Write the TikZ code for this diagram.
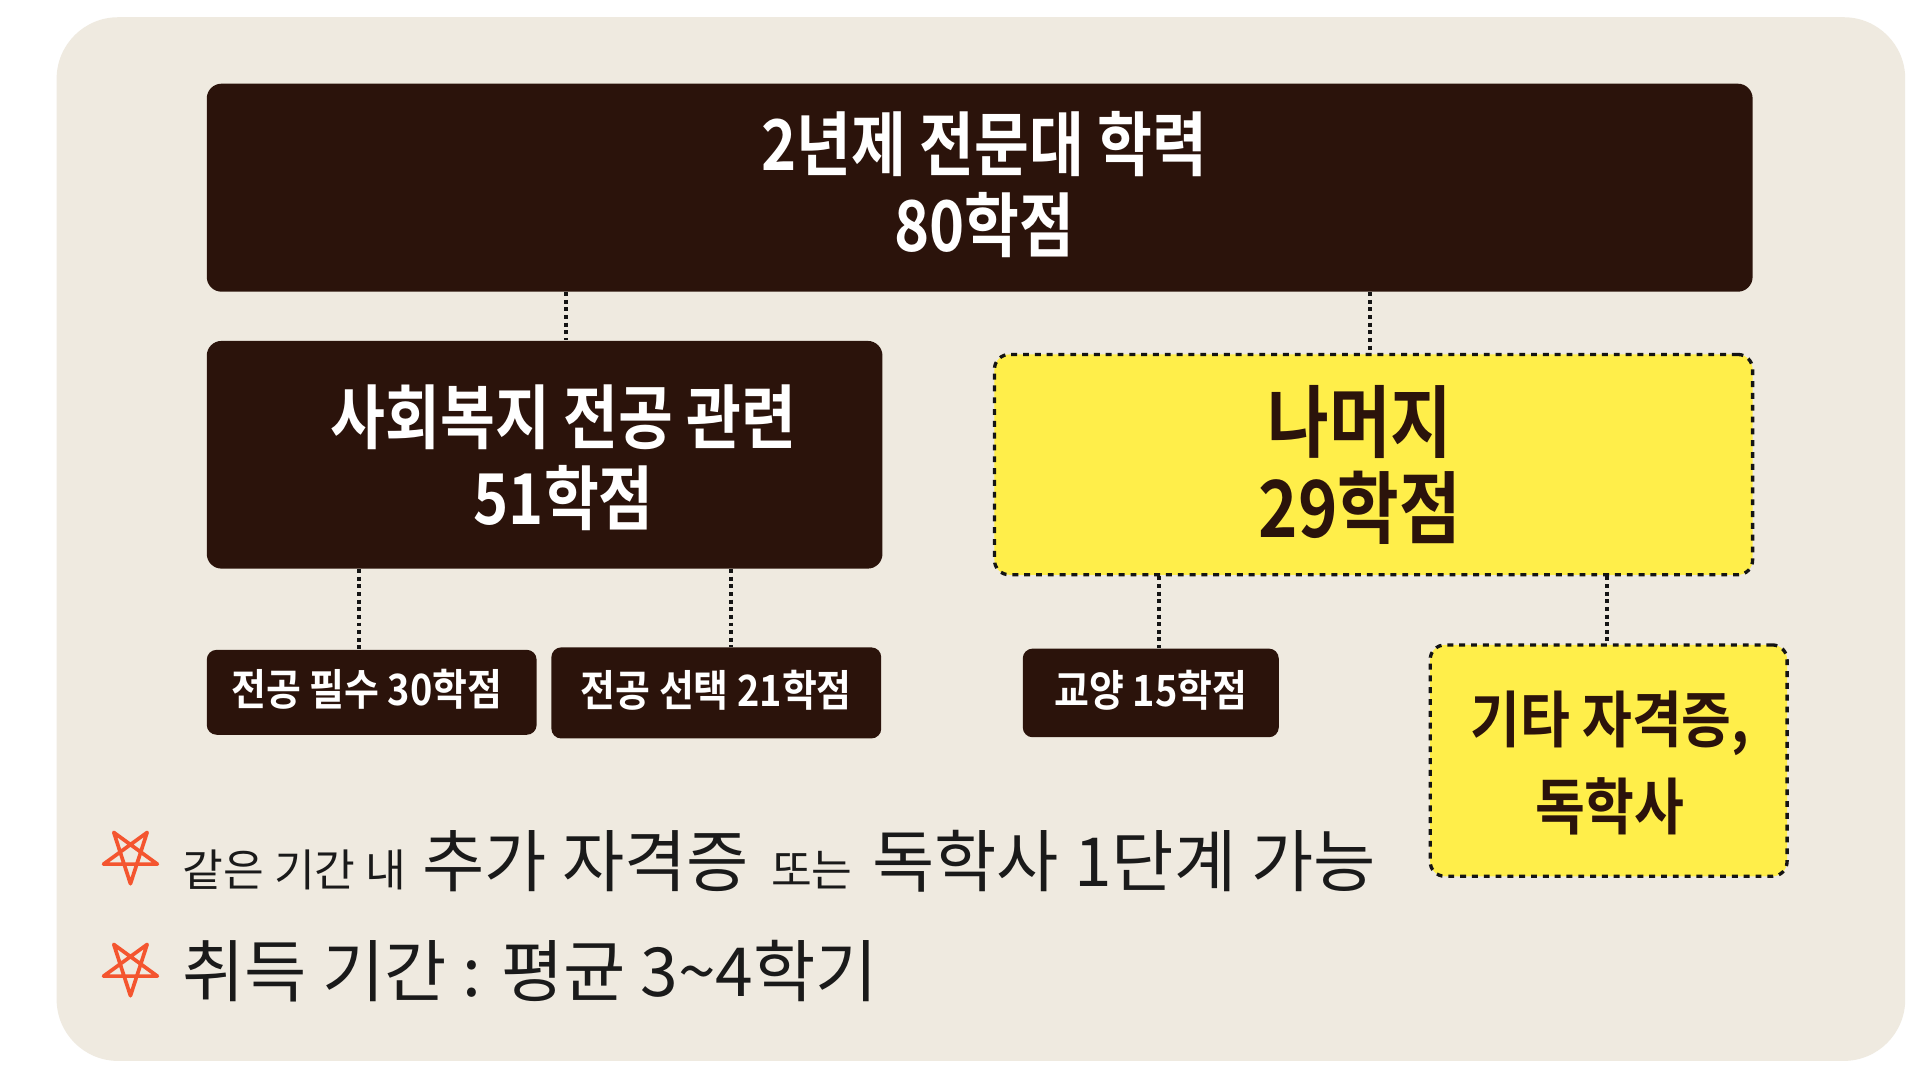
\documentclass[tikz,border=0pt]{standalone}
\usepackage{fontspec}
\usetikzlibrary{calc}
\newfontfamily\kb{Noto Sans CJK KR Bold}[FakeStretch=0.85]
\newfontfamily\kbs{Noto Sans CJK KR Bold}[FakeStretch=0.88]
\newfontfamily\kr{Noto Sans CJK KR}
\definecolor{bgc}{HTML}{EFEAE0}
\definecolor{darkc}{HTML}{2B130B}
\definecolor{yelc}{HTML}{FFEE4A}
\definecolor{starc}{HTML}{F4552F}
\definecolor{txtc}{HTML}{1A1A1A}
\definecolor{linec}{HTML}{141414}
\tikzset{
  darkbox/.style={fill=darkc, draw=none, rounded corners=6pt, inner sep=0pt},
  yelbox/.style={fill=yelc, draw=linec, line width=1.35pt, dash pattern=on 2.4pt off 2.4pt, rounded corners=6pt, inner sep=0pt},
  conn/.style={draw=linec, line width=1.6pt, dash pattern=on 1.6pt off 1.5pt},
  wbig/.style={text=white, align=center, inner sep=0pt, font=\kb\fontsize{28.5}{33}\selectfont},
  wsmall/.style={text=white, align=center, inner sep=0pt, font=\kbs\fontsize{17.5}{20}\selectfont},
  dbig/.style={text=darkc, align=center, inner sep=0pt, font=\kb\fontsize{32}{35}\selectfont},
  dmid/.style={text=darkc, align=center, inner sep=0pt, font=\kbs\fontsize{25}{35}\selectfont},
  note/.style={text=txtc, inner sep=0pt, anchor=base west},
  starline/.style={draw=starc, line width=1.5pt, line join=round, line cap=round}
}
\newcommand{\mystar}[1]{%
  \draw[starline] ($(#1)+(90:23)$) -- ($(#1)+(234:23)$) -- ($(#1)+(18:23)$) -- ($(#1)+(162:23)$) -- ($(#1)+(306:23)$) -- cycle;}
\begin{document}
\begin{tikzpicture}[x=0.5pt,y=-0.5pt]
\useasboundingbox (0,0) rectangle (1560,877.5);
\fill[white] (0,0) rectangle (1560,877.5);
\fill[bgc, rounded corners=25pt] (46,14) rectangle (1548,862);

% boxes
\node[darkbox, minimum width=628pt, minimum height=84.5pt] (top) at (796,152.5) {};
\node[darkbox, minimum width=274.5pt, minimum height=92.5pt] (major) at (442.5,369.5) {};
\node[yelbox, minimum width=308pt, minimum height=89.5pt] (rest) at (1116,377.5) {};
\node[darkbox, rounded corners=4pt, minimum width=134pt, minimum height=34.5pt] (req) at (302,562.5) {};
\node[darkbox, rounded corners=4pt, minimum width=134pt, minimum height=37pt] (sel) at (582,563) {};
\node[darkbox, rounded corners=4pt, minimum width=104pt, minimum height=36pt] (gen) at (935,563) {};
\node[yelbox, minimum width=145pt, minimum height=94pt] (etc) at (1307,618) {};

% texts
\node[wbig] (toptxt) at (800,150) {2년제 전문대 학력\\80학점};
\node[wbig] (majortxt) at (458,372) {사회복지 전공 관련\\51학점};
\node[dbig] (resttxt) at (1105,378) {나머지\\29학점};
\node[wsmall] (reqtxt) at (298,560) {전공 필수 30학점};
\node[wsmall] (seltxt) at (582,561) {전공 선택 21학점};
\node[wsmall] (gentxt) at (935,561) {교양 15학점};
\node[dmid] (etctxt) at (1308,620) {기타 자격증,\\독학사};

% connectors
\coordinate (x1) at (460,0);
\coordinate (x2) at (1113,0);
\coordinate (x3) at (292,0);
\coordinate (x4) at (594,0);
\coordinate (x5) at (942,0);
\coordinate (x6) at (1306,0);
\draw[conn] (top.south -| x1) -- (major.north -| x1);
\draw[conn] (top.south -| x2) -- (rest.north -| x2);
\draw[conn] (major.south -| x3) -- (req.north -| x3);
\draw[conn] (major.south -| x4) -- (sel.north -| x4);
\draw[conn] (rest.south -| x5) -- (gen.north -| x5);
\draw[conn] (rest.south -| x6) -- (etc.north -| x6);

% notes
\coordinate (s1) at (106,695);
\coordinate (s2) at (106,786);
\mystar{s1}
\mystar{s2}
\node[note] (note1) at (148,720) {\kr{\fontsize{18}{20}\selectfont 같은 기간 내}\hspace{6.5pt}{\fontsize{27.5}{30}\selectfont 추가 자격증}\hspace{9pt}{\fontsize{18}{20}\selectfont 또는}\hspace{8pt}{\fontsize{27.5}{30}\selectfont 독학사 1단계 가능}};
\node[note] (note2) at (148,810) {\kr\fontsize{27.5}{30}\selectfont 취득 기간 : 평균 3\textasciitilde 4학기};
\end{tikzpicture}
\end{document}
